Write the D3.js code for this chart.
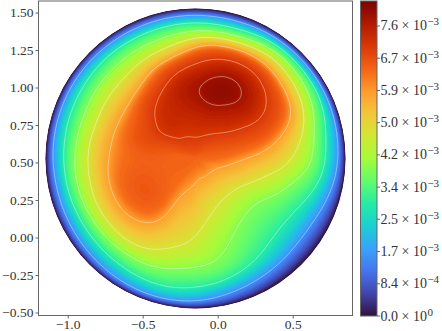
<!DOCTYPE html>
<html>
<head>
<meta charset="utf-8">
<script src="https://cdn.jsdelivr.net/npm/d3@7"></script>
<style>
  html, body { margin: 0; padding: 0; background: #fff; overflow: hidden; }
  text { font-family: "Liberation Serif", serif; fill: #333; }
</style>
</head>
<body>
<svg id="chart" width="442" height="331"></svg>
<script>
// The field is sampled on a polar grid round the disc centre.
// Directions in degrees, clockwise from straight up
const rayAngles = [4.5, 19.5, 34.5, 49.5, 64.5, 79.5, 94.5, 109.5, 124.5, 139.5, 154.5, 169.5, 184.5, 199.5, 214.5, 229.5, 244.5, 259.5, 274.5, 289.5, 304.5, 319.5, 334.5, 349.5];
// Radii as a fraction of the disc radius, rim first
const radii = [1, 0.973, 0.947, 0.907, 0.853, 0.787, 0.707, 0.6, 0.487, 0.387, 0.293, 0.2, 0.1, 0];

const rayProfiles = [
  [0, 12, 23, 40, 56.5, 71, 83.5, 91, 95.5, 95, 91, 89, 86, 79],
  [0, 12, 23, 40, 57, 73.5, 87, 95.5, 100, 96.5, 91.5, 88.5, 85, 79],
  [0, 16, 32, 52, 65, 75, 87.5, 94.5, 97, 93, 90, 87.5, 83, 79],
  [0, 16, 30, 50, 61.5, 70.5, 81, 89, 91.5, 90.5, 88.5, 85, 81, 79],
  [0, 16, 30, 46, 58, 67, 77, 82, 85, 84, 83, 81.5, 80, 79],
  [0, 14, 23.5, 33.5, 45, 57, 65, 71.5, 76.5, 78.5, 79, 79.5, 79, 79],
  [0, 12, 20, 30, 43, 54, 60, 66, 69, 72, 74.5, 77, 78.5, 79],
  [0, 7, 12, 20, 29, 40, 47, 57, 62.5, 67.5, 71, 74.5, 76.5, 79],
  [0, 5, 9.5, 15, 24, 33, 42, 49, 55, 62, 67.5, 72.5, 77, 79],
  [0, 5, 10, 17, 27, 36, 43, 49, 55, 61.5, 66.5, 71, 77, 79],
  [0, 7, 12.5, 20, 31, 43, 49, 54, 58.5, 63.5, 66.5, 72, 77, 79],
  [0, 10, 16.5, 25, 39, 49, 56, 59, 62.5, 66, 68, 72, 76.5, 79],
  [0, 13, 23.5, 34, 43, 49, 57, 64.5, 67.5, 70, 72, 74.5, 77.5, 79],
  [0, 15, 24, 35, 45, 53.5, 62, 66.5, 69.5, 71.5, 73.5, 76, 77.5, 79],
  [0, 14, 22, 31, 44, 55, 66, 71.5, 77.5, 79, 78.5, 78, 78.5, 79],
  [0, 13, 20, 32, 43, 57, 67, 75, 80, 81, 80, 78.5, 79, 79],
  [0, 12, 19, 31, 44, 59, 67, 76, 80.5, 81, 80, 79, 79, 79],
  [0, 12, 19, 31, 47, 59, 66, 75.5, 79, 80, 79.5, 79, 79, 79],
  [0, 13, 22, 34.5, 46, 58.5, 66, 74.5, 77.5, 79, 80, 79.5, 79, 79],
  [0, 13, 23, 36, 46, 56.5, 64.5, 73.5, 79, 83, 82.5, 81, 80, 79],
  [0, 14, 24, 37, 47, 58.5, 65.5, 73, 79, 83.5, 87.5, 85.5, 82, 79],
  [0, 13, 23, 38.5, 50, 58.5, 65.5, 73.5, 84.5, 89, 90, 88.5, 84.5, 79],
  [0, 13, 22.5, 38.5, 51, 60, 70, 80, 89, 90.5, 90, 88.5, 85, 79],
  [0, 13, 23, 40, 52, 62.5, 72, 88.5, 93.5, 92.5, 90.5, 88.5, 86, 79]
];

// Contour lines in the same units as the profiles
const contourLevels = [20, 40, 55, 65, 75, 87, 95];
// What those units mean as a share of the peak, judged from the colour under each line
const levelUnits = [0, 20, 40, 55, 65, 75, 78, 81, 87, 95, 100];
const levelShares = [0, 0.19, 0.36, 0.47, 0.58, 0.71, 0.775, 0.81, 0.86, 0.95, 1];

const peakValue = 8.25e-3;

const xTicks = [-1.0, -0.5, 0.0, 0.5];
const yTicks = [-0.5, -0.25, 0.0, 0.25, 0.5, 0.75, 1.0, 1.25, 1.5];

const barTicks = [0, 8.44e-4, 1.688e-3, 2.532e-3, 3.376e-3, 4.22e-3, 5.064e-3, 5.908e-3, 6.752e-3, 7.596e-3];
const barMantissas = ['0.0', '8.4', '1.7', '2.5', '3.4', '4.2', '5.0', '5.9', '6.7', '7.6'];
const barExponents = ['0', '\u22124', '\u22123', '\u22123', '\u22123', '\u22123', '\u22123', '\u22123', '\u22123', '\u22123'];

const turboColors = ['#30123b', '#4145ab', '#4675ed', '#39a2fc', '#1bcfd4', '#24eca6', '#61fc6c', '#a4fc3b', '#d1e834', '#f3c63a', '#fe9b2d', '#f36315', '#d93806', '#b11901', '#7a0402'];

const discCenter = [-0.148, 0.527];
const discRadius = 1.0;

const svg = d3.select('#chart');
const plot = { left: 38.5, right: 352.5, top: 1, bottom: 315.5 };
const frameColor = '#666';

const xScale = d3.scaleLinear().domain([-1.0, 0.5]).range([67.7, 292.7]);
const yScale = d3.scaleLinear().domain([-0.5, 1.5]).range([312.5, 12.5]);

const unitScale = d3.scaleLinear().domain(levelUnits).range(levelShares.map(s => s * peakValue));

const colorScale = d3.scaleLinear()
  .domain(turboColors.map((c, i) => i / (turboColors.length - 1) * peakValue))
  .range(turboColors)
  .clamp(true);

// Smooth display grid made from the samples, like imshow with a bicubic filter
const perRay = 6;
const perRadius = 5;
const overlap = 6;
const nAngle = rayAngles.length * perRay;
const cols = nAngle + 2 * overlap;
const rows = (radii.length - 1) * perRadius + 1;

const rayCurves = rayProfiles.map(p => d3.interpolateBasis(p));
const radiusCurve = d3.interpolateBasis(radii);

const values = [];
for (let j = 0; j < rows; j++) {
  const u = j / (rows - 1);
  const ring = d3.interpolateBasisClosed(rayCurves.map(f => f(u)));
  for (let i = 0; i < cols; i++) {
    const phi = (i - overlap + nAngle) / nAngle;
    values.push(u === 0 ? 0 : unitScale(ring(phi)));
  }
}

// Grid coordinates of d3.contours -> polar -> pixels
const toPixel = (gx, gy) => {
  const angle = (rayAngles[0] + (gx - 0.5 - overlap) / nAngle * 360) * Math.PI / 180;
  const r = radiusCurve(Math.max(0, Math.min(1, (gy - 0.5) / (rows - 1)))) * discRadius;
  return [
    xScale(discCenter[0] + r * Math.sin(angle)),
    yScale(discCenter[1] + r * Math.cos(angle))
  ];
};

const gridPath = d3.geoPath(d3.geoTransform({
  point(gx, gy) {
    const p = toPixel(gx, gy);
    this.stream.point(p[0], p[1]);
  }
}));

const defs = svg.append('defs');
defs.append('clipPath').attr('id', 'disc')
  .append('circle')
  .attr('cx', xScale(discCenter[0]))
  .attr('cy', yScale(discCenter[1]))
  .attr('r', xScale(discRadius) - xScale(0));
defs.append('filter').attr('id', 'soften')
  .attr('x', '-5%').attr('y', '-5%').attr('width', '110%').attr('height', '110%')
  .append('feGaussianBlur').attr('stdDeviation', 0.5);

const contours = d3.contours().size([cols, rows]).smooth(true);

const discGroup = svg.append('g').attr('clip-path', 'url(#disc)');
discGroup.append('rect')
  .attr('x', plot.left).attr('y', plot.top)
  .attr('width', plot.right - plot.left).attr('height', plot.bottom - plot.top)
  .attr('fill', colorScale(0));

// Filled bands, stacked low to high
const bandThresholds = d3.range(1, 200).map(i => i / 200 * peakValue);
discGroup.append('g')
  .attr('filter', 'url(#soften)')
  .selectAll('path')
  .data(contours.thresholds(bandThresholds)(values))
  .enter()
  .append('path')
  .attr('d', gridPath)
  .attr('fill', d => colorScale(d.value));

// Contour lines: keep one period of the grid, drop the parts on the grid border
const inWindow = p => p[0] > overlap + 0.4 && p[0] < overlap + nAngle + 0.7 && p[1] > 0 && p[1] < rows;
const plainLine = d3.line();

function ringToPath(ring) {
  const pts = ring.slice(0, -1);
  if (pts.every(inWindow)) return plainLine(pts.map(p => toPixel(p[0], p[1]))) + 'Z';
  // start right after a dropped point, then cut into runs
  const start = pts.findIndex((p, i) => !inWindow(p) && inWindow(pts[(i + 1) % pts.length]));
  if (start < 0) return '';
  const runs = [];
  let run = [];
  for (let k = 1; k <= pts.length; k++) {
    const p = pts[(start + k) % pts.length];
    if (inWindow(p)) {
      run.push(toPixel(p[0], p[1]));
    } else if (run.length) {
      runs.push(run);
      run = [];
    }
  }
  if (run.length) runs.push(run);
  return runs.filter(r => r.length > 1).map(r => plainLine(r)).join('');
}

discGroup.append('g')
  .selectAll('path')
  .data(contours.thresholds(contourLevels.map(l => unitScale(l)))(values))
  .enter()
  .append('path')
  .attr('d', d => d.coordinates.flat().map(ringToPath).join(''))
  .attr('fill', 'none')
  .attr('stroke', '#fff')
  .attr('stroke-opacity', 0.5)
  .attr('stroke-width', 0.8);

// Frame and axes
svg.append('rect')
  .attr('x', plot.left).attr('y', plot.top)
  .attr('width', plot.right - plot.left).attr('height', plot.bottom - plot.top)
  .attr('fill', 'none')
  .attr('stroke', frameColor)
  .attr('stroke-width', 1);

const xAxis = d3.axisBottom(xScale).tickValues(xTicks).tickSize(3).tickPadding(1)
  .tickFormat(d => d3.format('.1f')(d).replace('-', '\u2212'));
const yAxis = d3.axisLeft(yScale).tickValues(yTicks).tickSize(3).tickPadding(2)
  .tickFormat(d => d3.format('.2f')(d).replace('-', '\u2212'));

const xGroup = svg.append('g').attr('transform', `translate(0,${plot.bottom})`).call(xAxis);
const yGroup = svg.append('g').attr('transform', `translate(${plot.left},0)`).call(yAxis);
[xGroup, yGroup].forEach(g => {
  g.select('.domain').remove();
  g.selectAll('line').attr('stroke', frameColor);
  g.selectAll('text').attr('font-size', 13.5).attr('font-family', '"Liberation Serif", serif').attr('fill', '#333');
});

// Colorbar
const bar = { left: 360.5, right: 377, top: 1, bottom: 316 };
const barScale = d3.scaleLinear().domain([0, peakValue]).range([bar.bottom, bar.top]);

const gradient = defs.append('linearGradient').attr('id', 'turbo')
  .attr('x1', 0).attr('y1', 1).attr('x2', 0).attr('y2', 0);
gradient.selectAll('stop')
  .data(turboColors)
  .enter()
  .append('stop')
  .attr('offset', (d, i) => i / (turboColors.length - 1))
  .attr('stop-color', d => d);

svg.append('rect')
  .attr('x', bar.left).attr('y', bar.top)
  .attr('width', bar.right - bar.left).attr('height', bar.bottom - bar.top)
  .attr('fill', 'url(#turbo)')
  .attr('stroke', frameColor)
  .attr('stroke-width', 1);

const barTickGroups = svg.append('g').selectAll('g')
  .data(barTicks)
  .enter()
  .append('g')
  .attr('transform', d => `translate(${bar.right},${barScale(d)})`);

barTickGroups.append('line')
  .attr('x2', 3)
  .attr('stroke', frameColor);

const barLabels = barTickGroups.append('text')
  .attr('x', 3.5)
  .attr('y', 4.5)
  .attr('font-size', 14);
barLabels.append('tspan').text((d, i) => `${barMantissas[i]} \u00d7 10`);
barLabels.append('tspan')
  .attr('dy', -5)
  .attr('dx', 0.5)
  .attr('font-size', 11)
  .text((d, i) => barExponents[i]);
</script>
</body>
</html>
